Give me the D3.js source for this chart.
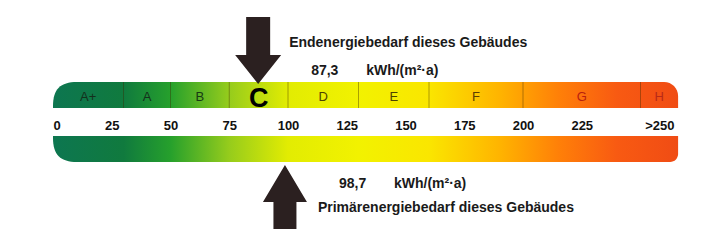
<!DOCTYPE html>
<html>
<head>
  <meta charset="utf-8">
  <title>Energieausweis Skala</title>
  <script src="https://d3js.org/d3.v7.min.js"></script>
  <style>
  body {
    margin: 0;
    background: white;
  }
  text {
    font-family: "Liberation Sans", Arial, sans-serif;
  }
  .tick text {
    font-size: 13px;
    font-weight: bold;
    fill: #111;
  }
  .info {
    font-size: 14px;
    font-weight: bold;
    fill: #1a1a1a;
  }
  </style>
</head>
<body>
<div id='container'></div>

<script>

// energy classes (kWh/(m²·a)), lower bounds + end of scale
var classNames = ['A+', 'A', 'B', 'C', 'D', 'E', 'F', 'G', 'H']
var classBounds = [0, 30, 50, 75, 100, 130, 160, 200, 250, 266]
var classColors = ['#14301c', '#14301c', '#183a14', '#000', '#4e4200', '#4e4200', '#5a3e00', '#b8200e', '#b82a18']

var tickValues = [0, 25, 50, 75, 100, 125, 150, 175, 200, 225, 258]
var tickLabels = ['0', '25', '50', '75', '100', '125', '150', '175', '200', '225', '>250']

// gradient along the scale
var gradValues = [0, 30, 50, 75, 100, 130, 160, 190, 215, 240, 266]
var gradColors = ['#0d7650', '#107a3e', '#26a02c', '#96cc1c', '#e2ec02', '#f2f200', '#fae600', '#ffb400', '#ff8008', '#f85a12', '#f04c14']

var endEnergy = 87.3
var primaryEnergy = 98.7
var currentClass = 'C'
var endLabel = 'Endenergiebedarf dieses Gebäudes'
var primaryLabel = 'Primärenergiebedarf dieses Gebäudes'
var unit = 'kWh/(m²·a)'

const width = 723
const height = 245

var svg = d3.select('#container')
  .append('svg')
  .attr('width', width)
  .attr('height', height)

var x = d3.scaleLinear()
  .domain([0, 250])
  .range([53, 640.5])

var xMin = x(classBounds[0])
var xMax = x(classBounds[classBounds.length - 1])

var defs = svg.append('defs')
var grad = defs.append('linearGradient')
  .attr('id', 'scaleGrad')
  .attr('gradientUnits', 'userSpaceOnUse')
  .attr('x1', xMin).attr('x2', xMax)
  .attr('y1', 0).attr('y2', 0)

gradValues.forEach((v, i) => {
  grad.append('stop')
    .attr('offset', (x(v) - xMin) / (xMax - xMin))
    .attr('stop-color', gradColors[i])
})

// top bar: big round top-left, small round top-right
var topY = 82, topH = 26
function topBarPath() {
  var p = d3.path()
  var rl = 24, rr = 14
  p.moveTo(xMin, topY + topH)
  p.lineTo(xMin, topY + rl)
  p.bezierCurveTo(xMin, topY + rl * 0.3, xMin + rl * 0.3, topY, xMin + rl, topY)
  p.lineTo(xMax - rr, topY)
  p.bezierCurveTo(xMax - rr * 0.45, topY, xMax, topY + rr * 0.45, xMax, topY + rr)
  p.lineTo(xMax, topY + topH)
  p.closePath()
  return p.toString()
}

var botY = 136, botH = 26
function bottomBarPath() {
  var p = d3.path()
  var rl = 24, rr = 8
  p.moveTo(xMin, botY)
  p.lineTo(xMax, botY)
  p.lineTo(xMax, botY + botH - rr)
  p.bezierCurveTo(xMax, botY + botH - rr * 0.45, xMax - rr * 0.45, botY + botH, xMax - rr, botY + botH)
  p.lineTo(xMin + rl, botY + botH)
  p.bezierCurveTo(xMin + rl * 0.3, botY + botH, xMin, botY + botH - rl * 0.3, xMin, botY + botH - rl)
  p.closePath()
  return p.toString()
}

svg.append('path').attr('d', topBarPath()).attr('fill', 'url(#scaleGrad)')
svg.append('path').attr('d', bottomBarPath()).attr('fill', 'url(#scaleGrad)')

// class separators
svg.selectAll('.sep')
  .data(classBounds.slice(1, -1))
  .enter()
  .append('line')
  .attr('class', 'sep')
  .attr('x1', d => x(d)).attr('x2', d => x(d))
  .attr('y1', topY).attr('y2', topY + topH)
  .style('stroke', 'rgba(60,40,0,0.4)')
  .style('stroke-width', 1)

// class letters
svg.selectAll('.cls')
  .data(classNames)
  .enter()
  .append('text')
  .attr('class', 'cls')
  .attr('x', (d, i) => x((classBounds[i] + classBounds[i + 1]) / 2))
  .attr('y', d => d === currentClass ? 107 : 101)
  .attr('text-anchor', 'middle')
  .style('font-size', d => d === currentClass ? '27px' : '13px')
  .style('font-weight', d => d === currentClass ? 'bold' : 'normal')
  .style('fill', (d, i) => classColors[i])
  .text(d => d)

// scale numbers
var axis = d3.axisBottom(x)
  .tickValues(tickValues)
  .tickFormat((d, i) => tickLabels[i])
  .tickSize(0)
  .tickPadding(0)

var axisG = svg.append('g')
  .attr('transform', 'translate(0,120)')
  .call(axis)
axisG.select('.domain').remove()
axisG.selectAll('.tick text')
  .attr('dy', '0.75em')
  .attr('text-anchor', (d, i) => i === 0 ? 'start' : 'middle')

// arrows
var arrowColor = '#2b2020'
function downArrow(cx) {
  var p = d3.path()
  p.moveTo(cx - 12, 17)
  p.lineTo(cx + 12, 17)
  p.lineTo(cx + 12, 55)
  p.lineTo(cx + 23, 55)
  p.lineTo(cx, 84)
  p.lineTo(cx - 23, 55)
  p.lineTo(cx - 12, 55)
  p.closePath()
  return p.toString()
}
function upArrow(cx) {
  var p = d3.path()
  p.moveTo(cx, 165)
  p.lineTo(cx + 22, 202)
  p.lineTo(cx + 11.5, 202)
  p.lineTo(cx + 11.5, 229)
  p.lineTo(cx - 11.5, 229)
  p.lineTo(cx - 11.5, 202)
  p.lineTo(cx - 22, 202)
  p.closePath()
  return p.toString()
}

var xEnd = x(endEnergy)
var xPrim = x(primaryEnergy)

svg.append('path').attr('d', downArrow(xEnd)).attr('fill', arrowColor)
svg.append('path').attr('d', upArrow(xPrim)).attr('fill', arrowColor)

// texts
svg.append('text').attr('class', 'info').attr('x', xEnd + 31).attr('y', 47).text(endLabel)
svg.append('text').attr('class', 'info').attr('x', xEnd + 53).attr('y', 75).text(d3.format('.1f')(endEnergy).replace('.', ','))
svg.append('text').attr('class', 'info').attr('x', xEnd + 108).attr('y', 75).text(unit)

svg.append('text').attr('class', 'info').attr('x', xPrim + 54).attr('y', 188).text(d3.format('.1f')(primaryEnergy).replace('.', ','))
svg.append('text').attr('class', 'info').attr('x', xPrim + 109).attr('y', 188).text(unit)
svg.append('text').attr('class', 'info').attr('x', xPrim + 33).attr('y', 212).text(primaryLabel)

</script>
</body>
</html>
